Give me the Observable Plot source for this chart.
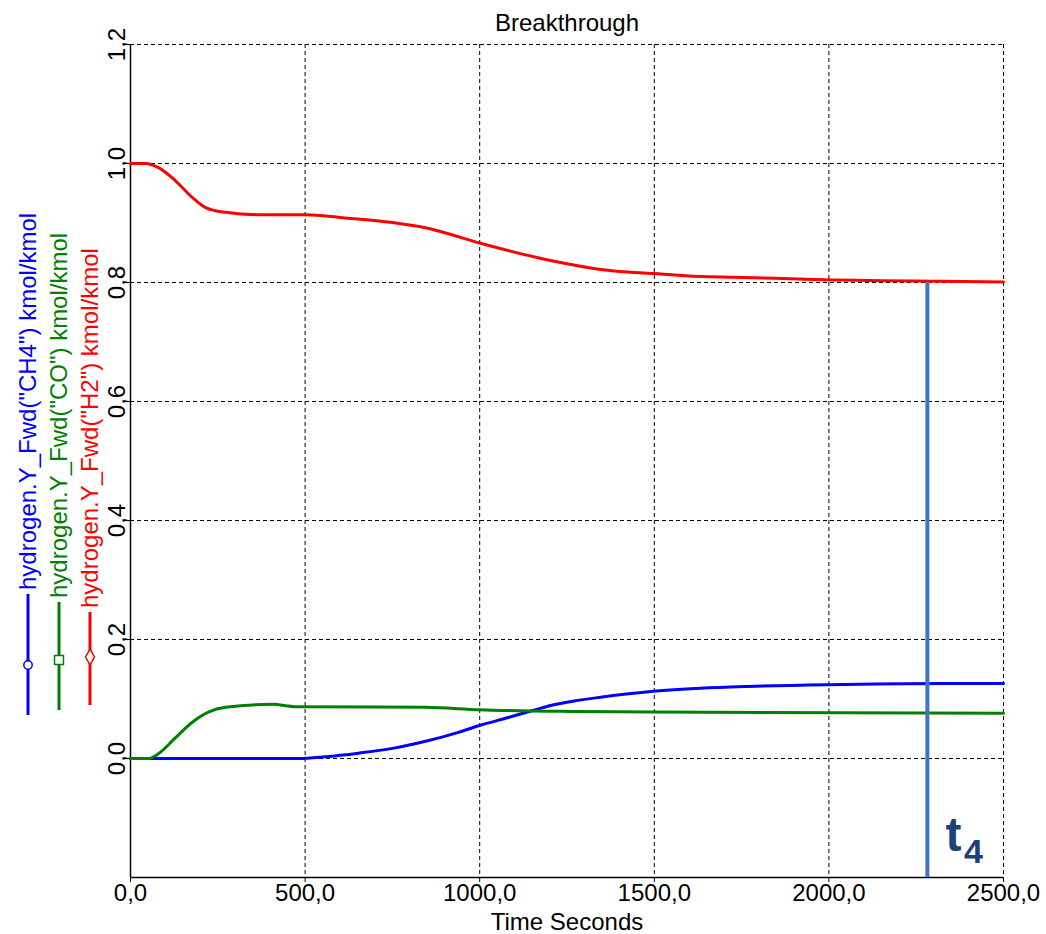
<!DOCTYPE html>
<html><head><meta charset="utf-8">
<script src="https://cdn.jsdelivr.net/npm/d3@7"></script>
<script src="https://cdn.jsdelivr.net/npm/@observablehq/plot@0.6"></script>
<style>
body{margin:0;background:#fff;}
#wrap{position:relative;width:1046px;height:934px;font-family:"Liberation Sans",Arial,sans-serif;}
#wrap svg{position:absolute;left:0;top:0;overflow:visible;}
</style></head><body><div id="wrap"></div>
<script>
const title = "Breakthrough";
const xLabel = "Time Seconds";
const seriesNames = ['hydrogen.Y_Fwd("CH4") kmol/kmol', 'hydrogen.Y_Fwd("CO") kmol/kmol', 'hydrogen.Y_Fwd("H2") kmol/kmol'];
const seriesColors = ["#0000ff", "#008000", "#ff0000"];
const seriesSymbols = ["circle", "square", "diamond"];

const ch4Time  = [0, 480, 558, 653, 750, 845, 939, 997, 1082, 1160, 1203, 1274, 1346, 1498, 1632, 1767, 1996, 2328, 2500];
const ch4Value = [0, 0, 0.003, 0.009, 0.017, 0.029, 0.044, 0.055, 0.069, 0.082, 0.089, 0.097, 0.103, 0.113, 0.118, 0.121, 0.124, 0.126, 0.126];

const coTime  = [0, 51, 80, 129, 177, 223, 272, 407, 472, 845, 997, 1274, 1498, 2500];
const coValue = [0, 0, 0.008, 0.035, 0.061, 0.078, 0.086, 0.091, 0.087, 0.086, 0.082, 0.079, 0.078, 0.076];

const h2Time  = [0, 43, 80, 129, 177, 215, 272, 367, 501, 607, 750, 845, 1002, 1203, 1346, 1498, 1632, 1727, 1956, 2328, 2500];
const h2Value = [1.0, 1.0, 0.993, 0.971, 0.943, 0.926, 0.918, 0.914, 0.914, 0.909, 0.901, 0.892, 0.866, 0.837, 0.822, 0.815, 0.810, 0.809, 0.805, 0.802, 0.801];

const xTicks = [0, 500, 1000, 1500, 2000, 2500];
const yTicks = [0, 0.2, 0.4, 0.6, 0.8, 1.0, 1.2];
const xDomain = [0, 2500];
const yDomain = [-0.2, 1.2];

const markerTime = [2282];
const markerLevel = [0.8];
const markerLabel = ["t", "4"];

const rows = [];
[[ch4Time, ch4Value], [coTime, coValue], [h2Time, h2Value]].forEach(([ts, vs], i) =>
  ts.forEach((t, j) => rows.push({series: seriesNames[i], t, v: vs[j]})));

const fmt = d => d.toFixed(1).replace(".", ",");
const FONT = "Liberation Sans, Arial, sans-serif";
const grid = {stroke: "#000", strokeOpacity: 1, strokeWidth: 1, strokeDasharray: "4,3"};

const chart = Plot.plot({
  width: 1046, height: 934,
  marginLeft: 130, marginRight: 43, marginTop: 44, marginBottom: 57,
  style: {fontFamily: FONT, fontSize: "24px", color: "#000", background: "transparent"},
  x: {domain: xDomain, axis: null},
  y: {domain: yDomain, axis: null},
  color: {domain: seriesNames, range: seriesColors},
  marks: [
    Plot.ruleX(xTicks.slice(1), grid),
    Plot.ruleY(yTicks, {x1: xDomain[0], x2: xDomain[1], ...grid}),
    Plot.ruleX([xDomain[0]], {stroke: "#000", strokeWidth: 1.5}),
    Plot.ruleY([yDomain[0]], {stroke: "#000", strokeWidth: 1.5}),
    Plot.axisX({ticks: xTicks, tickSize: 5, tickPadding: 1, tickFormat: fmt, label: null, fontSize: 24, stroke: "#000"}),
    Plot.axisY({ticks: yTicks, tickSize: 5, tickFormat: () => "", label: null, stroke: "#000"}),
    Plot.text(yTicks, {y: d => d, text: fmt, frameAnchor: "left", rotate: -90, textAnchor: "middle", lineAnchor: "middle", dx: -13, fontSize: 24, fill: "#000"}),
    Plot.text([title], {frameAnchor: "top", lineAnchor: "bottom", dy: -14, fontSize: 24, fill: "#000"}),
    Plot.text([xLabel], {frameAnchor: "bottom", lineAnchor: "top", dy: 35, fontSize: 24, fill: "#000"}),
    Plot.line(rows, {x: "t", y: "v", z: "series", stroke: "series", strokeWidth: 3, curve: "monotone-x"}),
    Plot.ruleX(markerTime, {y1: yDomain[0], y2: markerLevel[0], stroke: "#4472c4", strokeWidth: 4}),
    Plot.text([markerLabel[0]], {x: markerTime[0], y: yDomain[0], dx: 26, dy: -27, lineAnchor: "bottom", textAnchor: "middle", fontSize: 48, fontWeight: "bold", fill: "#1f3f78"}),
    Plot.text([markerLabel[1]], {x: markerTime[0], y: yDomain[0], dx: 46, dy: -15, lineAnchor: "bottom", textAnchor: "middle", fontSize: 34, fontWeight: "bold", fill: "#1f3f78"})
  ]
});
document.getElementById("wrap").appendChild(chart);

// legend (rotated, at left)
const leg = d3.select("#wrap").append("svg").attr("width", 130).attr("height", 934)
  .style("font-family", FONT).style("pointer-events", "none");
const legX = [28, 59, 90];
const legTop = [594, 602, 612];
const legBottom = [715, 710, 705];
const legMark = [665, 660, 657];
seriesNames.forEach((name, i) => {
  const g = leg.append("g");
  g.append("line").attr("x1", legX[i]).attr("x2", legX[i]).attr("y1", legTop[i]).attr("y2", legBottom[i])
    .attr("stroke", seriesColors[i]).attr("stroke-width", 3);
  const sym = d3.symbol().type(seriesSymbols[i] === "circle" ? d3.symbolCircle : seriesSymbols[i] === "square" ? d3.symbolSquare : d3.symbolDiamond)
    .size(seriesSymbols[i] === "circle" ? 55 : seriesSymbols[i] === "square" ? 80 : 70);
  g.append("path").attr("d", sym()).attr("transform", `translate(${legX[i]},${legMark[i]})`)
    .attr("fill", "#fff").attr("stroke", seriesColors[i]).attr("stroke-width", 1.5);
  g.append("text").attr("transform", `translate(${legX[i]},${legTop[i] - 4}) rotate(-90)`)
    .attr("dy", "0.35em").attr("font-size", 24).attr("fill", seriesColors[i]).text(name);
});
</script>
</body></html>
